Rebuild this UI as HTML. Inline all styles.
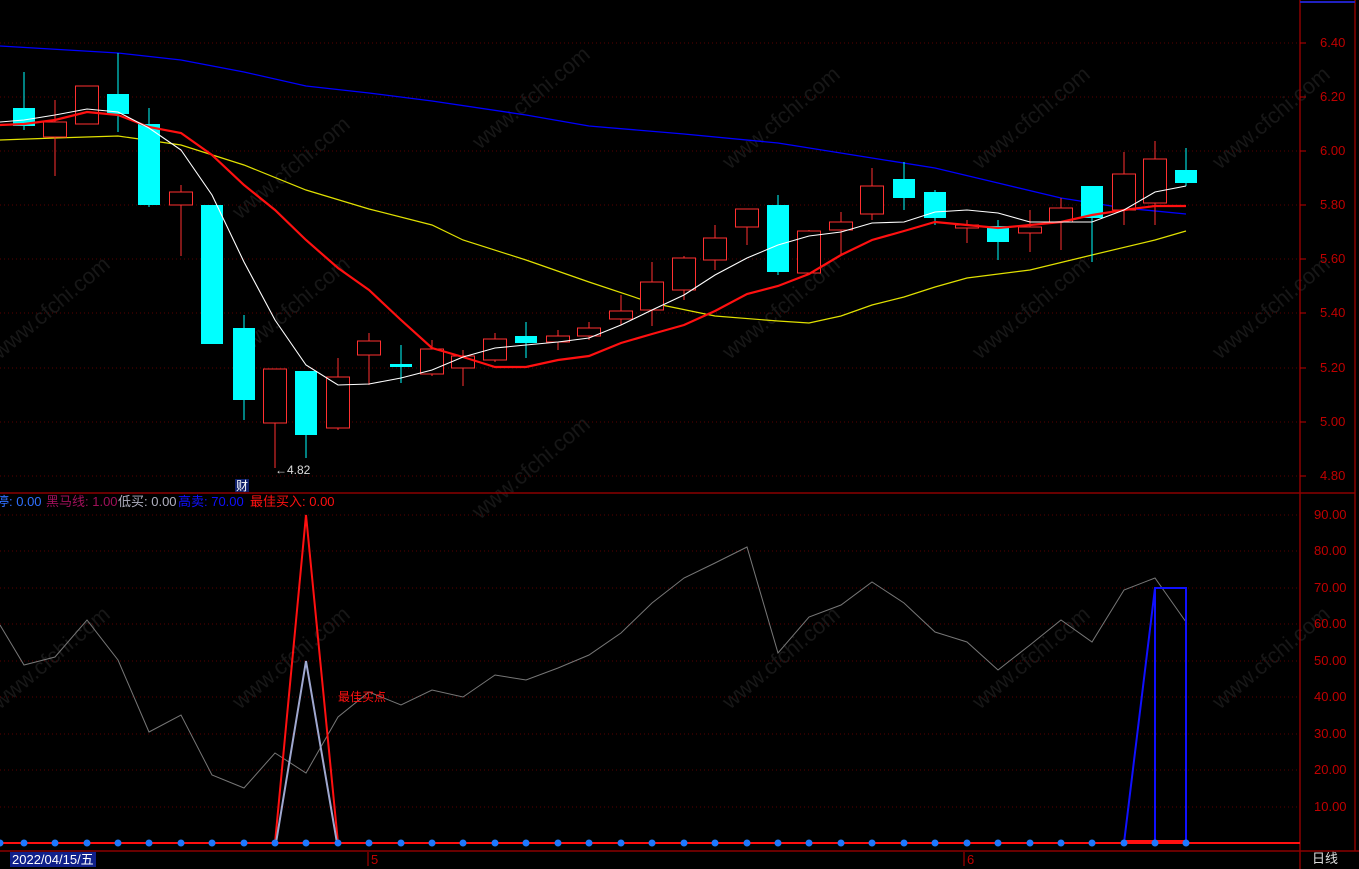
<!DOCTYPE html>
<html><head><meta charset="utf-8"><style>
body{margin:0;background:#000;width:1359px;height:869px;overflow:hidden;font-family:"Liberation Sans","Noto Sans CJK SC",sans-serif}
svg{display:block}
</style></head><body>
<svg width="1359" height="869" xmlns="http://www.w3.org/2000/svg" font-family="Liberation Sans, Noto Sans CJK SC, sans-serif">
<rect width="1359" height="869" fill="#000"/>
<g fill="#1a1a1a" font-size="22" opacity="0.9">
<text transform="translate(0,360) rotate(-40)">www.cfchi.com</text>
<text transform="translate(240,220) rotate(-40)">www.cfchi.com</text>
<text transform="translate(480,150) rotate(-40)">www.cfchi.com</text>
<text transform="translate(730,170) rotate(-40)">www.cfchi.com</text>
<text transform="translate(980,170) rotate(-40)">www.cfchi.com</text>
<text transform="translate(1220,170) rotate(-40)">www.cfchi.com</text>
<text transform="translate(240,360) rotate(-40)">www.cfchi.com</text>
<text transform="translate(730,360) rotate(-40)">www.cfchi.com</text>
<text transform="translate(980,360) rotate(-40)">www.cfchi.com</text>
<text transform="translate(1220,360) rotate(-40)">www.cfchi.com</text>
<text transform="translate(240,710) rotate(-40)">www.cfchi.com</text>
<text transform="translate(730,710) rotate(-40)">www.cfchi.com</text>
<text transform="translate(980,710) rotate(-40)">www.cfchi.com</text>
<text transform="translate(1220,710) rotate(-40)">www.cfchi.com</text>
<text transform="translate(0,710) rotate(-40)">www.cfchi.com</text>
<text transform="translate(480,520) rotate(-40)">www.cfchi.com</text>
</g>
<g stroke="#5a0000" stroke-dasharray="1,3" stroke-width="1">
<line x1="0" x2="1300" y1="43" y2="43"/><line x1="0" x2="1300" y1="97" y2="97"/><line x1="0" x2="1300" y1="151" y2="151"/><line x1="0" x2="1300" y1="205" y2="205"/><line x1="0" x2="1300" y1="259" y2="259"/><line x1="0" x2="1300" y1="313" y2="313"/><line x1="0" x2="1300" y1="368" y2="368"/><line x1="0" x2="1300" y1="422" y2="422"/><line x1="0" x2="1300" y1="476" y2="476"/>
<line x1="0" x2="1300" y1="515" y2="515"/><line x1="0" x2="1300" y1="551" y2="551"/><line x1="0" x2="1300" y1="588" y2="588"/><line x1="0" x2="1300" y1="624" y2="624"/><line x1="0" x2="1300" y1="661" y2="661"/><line x1="0" x2="1300" y1="697" y2="697"/><line x1="0" x2="1300" y1="734" y2="734"/><line x1="0" x2="1300" y1="770" y2="770"/><line x1="0" x2="1300" y1="807" y2="807"/>
</g>
<g stroke="#8b0000" stroke-width="1.5" fill="none">
<line x1="1300" y1="0" x2="1300" y2="869"/>
<line x1="1355" y1="0" x2="1355" y2="851"/>
<line x1="0" y1="493" x2="1355" y2="493"/>
<line x1="0" y1="851" x2="1359" y2="851"/>
</g>
<line x1="1300" y1="2" x2="1355" y2="2" stroke="#2020c0" stroke-width="2"/>
<g fill="#c00000" font-size="13">
<text x="1320" y="47">6.40</text><text x="1320" y="101">6.20</text><text x="1320" y="155">6.00</text><text x="1320" y="209">5.80</text><text x="1320" y="263">5.60</text><text x="1320" y="317">5.40</text><text x="1320" y="372">5.20</text><text x="1320" y="426">5.00</text><text x="1320" y="480">4.80</text>
<text x="1314" y="519">90.00</text><text x="1314" y="555">80.00</text><text x="1314" y="592">70.00</text><text x="1314" y="628">60.00</text><text x="1314" y="665">50.00</text><text x="1314" y="701">40.00</text><text x="1314" y="738">30.00</text><text x="1314" y="774">20.00</text><text x="1314" y="811">10.00</text>
</g>
<g stroke="#c00000"><line x1="1300" x2="1306" y1="43" y2="43"/><line x1="1300" x2="1306" y1="97" y2="97"/><line x1="1300" x2="1306" y1="151" y2="151"/><line x1="1300" x2="1306" y1="205" y2="205"/><line x1="1300" x2="1306" y1="259" y2="259"/><line x1="1300" x2="1306" y1="313" y2="313"/><line x1="1300" x2="1306" y1="368" y2="368"/><line x1="1300" x2="1306" y1="422" y2="422"/><line x1="1300" x2="1306" y1="476" y2="476"/></g>
<polyline fill="none" stroke="#0000ff" stroke-width="1.3" points="0,46 118,53 181,60 244,72 306,86 369,93 432,101 526,115 589,126 684,134 778,143 872,158 935,168 998,183 1061,198 1124,208 1186,214"/>
<polyline fill="none" stroke="#e0e000" stroke-width="1.2" points="0,140 55,138 118,136 181,145 244,165 306,190 369,209 432,225 463,240 526,260 589,282 652,303 715,316 778,321 809,323 841,316 872,305 904,297 935,287 967,278 1030,270 1092,255 1155,240 1186,231"/>
<g id="c" stroke-width="1"></g>
<polyline fill="none" stroke="#ff1010" stroke-width="2.2" points="0,125 24,124 55,120 87,112 118,115 149,127 181,133 212,155 244,185 275,210 306,240 338,268 369,290 401,320 432,348 463,357 495,367 526,367 558,360 589,356 621,343 652,334 684,325 715,311 747,294 778,286 809,274 841,255 872,240 904,231 935,222 967,225 998,228 1030,225 1061,222 1092,215 1124,210 1155,206 1186,206"/>
<polyline fill="none" stroke="#ffffff" stroke-width="1.1" points="0,122 24,120 55,115 87,109 118,112 149,128 181,150 212,195 244,262 275,320 306,365 338,385 369,384 401,378 432,370 463,357 495,348 526,345 558,342 589,338 621,325 652,310 684,295 715,275 747,258 778,245 809,236 841,232 872,223 904,222 935,212 967,210 998,213 1030,222 1061,222 1092,222 1124,210 1155,192 1186,186"/>
<text x="275" y="474" fill="#ddd" font-size="12">←4.82</text>
<rect x="235" y="479" width="14" height="13" fill="#10206a"/><text x="236" y="490" fill="#fff" font-size="12">财</text>
<g font-size="13"><text x="-4" y="506" fill="#3070ff">停: 0.00</text><text x="46" y="506" fill="#a0105a">黑马线: 1.00</text><text x="118" y="506" fill="#b0b0c0">低买: 0.00</text><text x="178" y="506" fill="#1010ff">高卖: 70.00</text><text x="250" y="506" fill="#ff1010">最佳买入: 0.00</text></g>
<polyline fill="none" stroke="#777" stroke-width="1" points="0,625 24,665 55,657 87,620 118,660 149,732 181,715 212,775 244,788 275,753 306,773 338,717 369,692 401,705 432,690 463,697 495,675 526,680 558,668 589,655 621,633 652,603 684,578 715,563 747,547 778,653 809,617 841,605 872,582 904,603 935,632 967,642 998,670 1030,645 1061,620 1092,642 1124,590 1155,578 1186,622"/>
<polyline fill="none" stroke="#ff1010" stroke-width="2" points="275,843 306,515 338,843"/>
<polyline fill="none" stroke="#a0a8d0" stroke-width="2" points="276,843 306,661 337,843"/>
<polyline fill="none" stroke="#1010ff" stroke-width="2" points="1124,843 1155,588 1186,588 1186,843"/>
<line x1="1155" y1="588" x2="1155" y2="843" stroke="#1010ff" stroke-width="2"/>
<line x1="0" y1="843" x2="1300" y2="843" stroke="#ff1010" stroke-width="2"/>
<line x1="1124" y1="841" x2="1186" y2="841" stroke="#ff1010" stroke-width="2"/>
<g id="d" fill="#1e78ff"></g>
<text x="338" y="701" fill="#ff1010" font-size="12">最佳买点</text>
<rect x="10" y="852" width="86" height="15" fill="#10208a"/>
<text x="12" y="864" fill="#fff" font-size="13">2022/04/15/五</text>
<line x1="368" y1="852" x2="368" y2="866" stroke="#c00000"/><text x="371" y="864" fill="#c00000" font-size="13">5</text>
<line x1="964" y1="852" x2="964" y2="866" stroke="#c00000"/><text x="967" y="864" fill="#c00000" font-size="13">6</text>
<text x="1312" y="863" fill="#ddd" font-size="13">日线</text>
</svg>
<script>
var C=[[24,0,108,126,72,130],[55,1,122,137,100,176],[87,1,86,124,86,124],[118,0,94,114,53,132],[149,0,124,205,108,207],[181,1,192,205,185,256],[212,0,205,344,205,344],[244,0,328,400,315,420],[275,1,369,423,369,468],[306,0,371,435,371,458],[338,1,377,428,358,430],[369,1,341,355,333,385],[401,0,364,367,345,383],[432,1,349,374,340,376],[463,1,356,368,350,386],[495,1,339,360,333,362],[526,0,336,343,322,358],[558,1,336,342,330,350],[589,1,328,336,322,340],[621,1,311,319,295,325],[652,1,282,310,262,326],[684,1,258,290,256,300],[715,1,238,260,225,270],[747,1,209,227,209,245],[778,0,205,272,195,275],[809,1,231,273,230,275],[841,1,222,230,212,255],[872,1,186,214,168,220],[904,0,179,198,162,210],[935,0,192,218,190,225],[967,1,225,228,220,243],[998,0,226,242,220,260],[1030,1,227,233,210,252],[1061,1,208,222,198,250],[1092,0,186,218,186,262],[1124,1,174,210,152,225],[1155,1,159,203,141,225],[1186,0,170,183,148,186]];
var ns="http://www.w3.org/2000/svg",g=document.getElementById('c'),d=document.getElementById('d');
function el(t,a,p){var e=document.createElementNS(ns,t);for(var k in a)e.setAttribute(k,a[k]);p.appendChild(e);}
C.forEach(function(c){var x=c[0],col=c[1]?'#ff3030':'#00ffff';
el('line',{x1:x,x2:x,y1:c[4],y2:c[2],stroke:col},g);el('line',{x1:x,x2:x,y1:c[3],y2:c[5],stroke:col},g);
if(c[1])el('rect',{x:x-11.5,y:c[2],width:23,height:c[3]-c[2],fill:'#000',stroke:col},g);
else el('rect',{x:x-11,y:c[2],width:22,height:Math.max(2,c[3]-c[2]),fill:col},g);
el('circle',{cx:x,cy:843,r:3.5},d);});
el('circle',{cx:0,cy:843,r:3.5},d);
</script>
</body></html>
